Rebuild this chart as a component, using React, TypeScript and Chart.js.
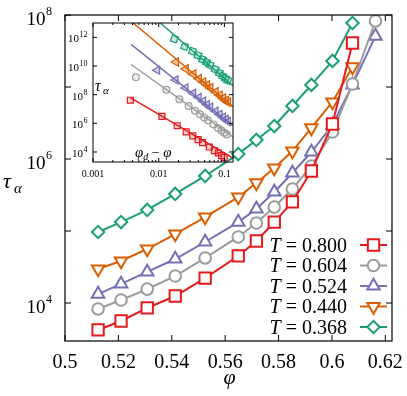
import React, { useEffect, useRef } from 'react';
import { Chart, registerables } from 'chart.js';

Chart.register(...registerables);

// ---------- main plot data ----------
const PHI = [0.5124, 0.521, 0.5308, 0.5413, 0.5525, 0.5649, 0.5717, 0.5784, 0.5852, 0.5923, 0.6002, 0.6077, 0.6163];
const TEMPS = ['0.800', '0.604', '0.524', '0.440', '0.368'];
const TAU_T0800 = [4220, 5620, 8530, 12500, 22200, 45000, 72600, 133000, 253000, 681000, 3060000, 40800000];
const TAU_T0604 = [8260, 11000, 15600, 23700, 42200, 82600, 129000, 215000, 383000, 800000, 2370000, 11000000, 82600000];
const TAU_T0524 = [13300, 18400, 27000, 40800, 70300, 133000, 202000, 348000, 640000, 1250000, 2960000, 10700000, 51000000];
const TAU_T0440 = [29600, 38300, 56200, 90800, 156000, 296000, 465000, 750000, 1290000, 2700000, 6190000, 19000000];
const TAU_T0368 = [96800, 133000, 196000, 327000, 581000, 1170000, 1840000, 2870000, 5450000, 10700000, 23000000, 77400000];

const X_TICKS = [0.5, 0.52, 0.54, 0.56, 0.58, 0.6, 0.62];
const X_TICK_LABELS = ['0.5', '0.52', '0.54', '0.56', '0.58', '0.6', '0.62'];
const Y_TICK_EXP = [4, 5, 6, 7, 8];
const Y_LABEL_EXP = [4, 6, 8];

// ---------- inset data (tau vs phi_d - phi) ----------
const INSET_DPHI_T0800 = [0.0037, 0.0112, 0.0191, 0.0262, 0.033, 0.0397, 0.0465, 0.0589, 0.0701, 0.0806, 0.0904, 0.099];
const INSET_TAU_T0800 = [40800000, 3060000, 681000, 253000, 133000, 72600, 45000, 22200, 12500, 8530, 5620, 4220];
const INSET_DPHI_T0604 = [0.0045, 0.0131, 0.0206, 0.0285, 0.0356, 0.0424, 0.0491, 0.0559, 0.0683, 0.0795, 0.09, 0.0998, 0.1084];
const INSET_TAU_T0604 = [1.65e9, 2.2e8, 4.73e7, 1.6e7, 7.64e6, 4.3e6, 2.58e6, 1.65e6, 8.41e5, 4.73e5, 3.12e5, 2.2e5, 1.65e5];
const INSET_DPHI_T0524 = [0.0095, 0.0181, 0.0256, 0.0335, 0.0406, 0.0474, 0.0541, 0.0609, 0.0733, 0.0845, 0.095, 0.1048, 0.1134];
const INSET_TAU_T0524 = [5.1e9, 1.07e9, 2.97e8, 1.25e8, 6.4e7, 3.48e7, 2.02e7, 1.33e7, 7.03e6, 4.08e6, 2.7e6, 1.84e6, 1.33e6];
const INSET_DPHI_T0440 = [0.0183, 0.0258, 0.0337, 0.0408, 0.0476, 0.0543, 0.0611, 0.0735, 0.0847, 0.0952, 0.105, 0.1136];
const INSET_TAU_T0440 = [1.9e10, 6.19e9, 2.7e9, 1.29e9, 7.5e8, 4.65e8, 2.97e8, 1.56e8, 9.08e7, 5.62e7, 3.83e7, 2.97e7];
const INSET_DPHI_T0368 = [0.0173, 0.0248, 0.0327, 0.0398, 0.0466, 0.0533, 0.0601, 0.0725, 0.0837, 0.0942, 0.104, 0.1126];
const INSET_TAU_T0368 = [7.74e11, 2.3e11, 1.07e11, 5.45e10, 2.87e10, 1.84e10, 1.17e10, 5.81e9, 3.27e9, 1.96e9, 1.33e9, 9.68e8];

// power-law fit lines: [start, end]
const FIT_DPHI = [[0.0037, 0.135], [0.0038, 0.135], [0.0038, 0.135], [0.00408, 0.135], [0.01055, 0.135]];
const FIT_TAU = [[6.2e7, 3800], [1.27e10, 1.12e5], [3.24e11, 6.6e5], [1e13, 1.45e7], [1e13, 4.27e8]];

const INSET_X_TICKS = [0.001, 0.01, 0.1];
const INSET_X_LABELS = ['0.001', '0.01', '0.1'];
const INSET_Y_EXP = [4, 6, 8, 10, 12];

// ---------- styles ----------
const COLORS = ['#e41a1c', '#9b9b9b', '#7570b3', '#d95f02', '#1b9e77'];
const FILLS = ['rgba(228,26,28,0.2)', 'rgba(155,155,155,0.15)', 'rgba(117,112,179,0.35)', 'rgba(217,95,2,0.35)', 'rgba(27,158,119,0.25)'];
const STYLES = ['rect', 'circle', 'triangle', 'triangle', 'rectRot'];
const ROTS = [0, 0, 0, 180, 0];
const MAIN_R = [8, 5.8, 7.2, 7.2, 6.2];
const INSET_STYLES = ['rect', 'circle', 'triangle', 'triangle', 'rect'];
const INSET_ROTS = [0, 0, 150, 270, 20];
const INSET_R = [4.2, 3.4, 4.8, 5, 4.4];
const SERIF = '"Liberation Serif", "DejaVu Serif", serif';

const MAIN_TAU = [TAU_T0800, TAU_T0604, TAU_T0524, TAU_T0440, TAU_T0368];
const INSET_DPHI = [INSET_DPHI_T0800, INSET_DPHI_T0604, INSET_DPHI_T0524, INSET_DPHI_T0440, INSET_DPHI_T0368];
const INSET_TAU = [INSET_TAU_T0800, INSET_TAU_T0604, INSET_TAU_T0524, INSET_TAU_T0440, INSET_TAU_T0368];

function drawMarker(ctx: CanvasRenderingContext2D, style: string, x: number, y: number, r: number, rot: number) {
  ctx.beginPath();
  if (style === 'rect') {
    const s = r * Math.SQRT1_2;
    ctx.rect(x - s, y - s, 2 * s, 2 * s);
  } else if (style === 'circle') {
    ctx.arc(x, y, r, 0, Math.PI * 2);
  } else if (style === 'triangle') {
    let a = (rot * Math.PI) / 180;
    for (let k = 0; k < 3; k++) {
      const px = x + Math.sin(a) * r, py = y - Math.cos(a) * r;
      if (k === 0) ctx.moveTo(px, py); else ctx.lineTo(px, py);
      a += (2 * Math.PI) / 3;
    }
  } else {
    ctx.moveTo(x - r, y); ctx.lineTo(x, y - r); ctx.lineTo(x + r, y); ctx.lineTo(x, y + r);
  }
  ctx.closePath();
  ctx.fill();
  ctx.stroke();
}

function drawPow(ctx: CanvasRenderingContext2D, exp: number, right: number, ty: number, bs: number, es: number, bOff: number, eOff: number) {
  ctx.textAlign = 'right';
  ctx.textBaseline = 'alphabetic';
  ctx.font = `${es}px ${SERIF}`;
  const es_ = String(exp);
  const ew = ctx.measureText(es_).width;
  ctx.fillText(es_, right, ty + eOff);
  ctx.font = `${bs}px ${SERIF}`;
  ctx.fillText('10', right - ew - 0.5, ty + bOff);
}

const mainDecor = {
  id: 'mainDecor',
  afterDraw(chart: any) {
    const { ctx, chartArea: a, scales } = chart;
    const xs = scales.x, ys = scales.y;
    ctx.save();
    ctx.strokeStyle = '#000';
    ctx.lineWidth = 1.2;
    ctx.strokeRect(a.left, a.top, a.right - a.left, a.bottom - a.top);
    ctx.beginPath();
    X_TICKS.forEach((v) => {
      const px = xs.getPixelForValue(v);
      ctx.moveTo(px, a.bottom); ctx.lineTo(px, a.bottom - 6);
      ctx.moveTo(px, a.top); ctx.lineTo(px, a.top + 6);
    });
    Y_TICK_EXP.forEach((e) => {
      const py = ys.getPixelForValue(Math.pow(10, e));
      ctx.moveTo(a.left, py); ctx.lineTo(a.left + 6, py);
      ctx.moveTo(a.right, py); ctx.lineTo(a.right - 6, py);
    });
    ctx.lineWidth = 1;
    ctx.stroke();

    ctx.fillStyle = '#000';
    ctx.font = `20px ${SERIF}`;
    ctx.textAlign = 'center';
    ctx.textBaseline = 'alphabetic';
    X_TICKS.forEach((v, i) => ctx.fillText(X_TICK_LABELS[i], xs.getPixelForValue(v), a.bottom + 27));
    Y_LABEL_EXP.forEach((e) => drawPow(ctx, e, a.left - 13, ys.getPixelForValue(Math.pow(10, e)), 19, 12, 10, 0));

    // axis titles
    ctx.textAlign = 'left';
    ctx.font = `italic 22px ${SERIF}`;
    ctx.fillText('τ', 3, 188);
    ctx.font = `italic 15px ${SERIF}`;
    ctx.fillText('α', 14, 193);
    ctx.textAlign = 'center';
    ctx.font = `italic 22px ${SERIF}`;
    ctx.fillText('φ', (a.left + a.right) / 2 + 1, a.bottom + 43);

    // legend
    const textRight = a.right - 45;
    TEMPS.forEach((t, i) => {
      const cy = a.bottom - 96 + i * 20.5;
      ctx.textAlign = 'right';
      ctx.font = `20px ${SERIF}`;
      const rest = ' = ' + t;
      const w = ctx.measureText(rest).width;
      ctx.fillStyle = '#000';
      ctx.fillText(rest, textRight, cy + 6.5);
      ctx.font = `italic 20px ${SERIF}`;
      ctx.fillText('T', textRight - w, cy + 6.5);
      ctx.strokeStyle = COLORS[i];
      ctx.lineWidth = 2;
      ctx.beginPath();
      ctx.moveTo(a.right - 32, cy); ctx.lineTo(a.right - 5, cy);
      ctx.stroke();
      ctx.fillStyle = '#fff';
      drawMarker(ctx, STYLES[i], a.right - 18.5, cy, MAIN_R[i], ROTS[i]);
    });
    ctx.restore();
  },
};

const insetDecor = {
  id: 'insetDecor',
  afterDraw(chart: any) {
    const { ctx, chartArea: a, scales } = chart;
    const xs = scales.x, ys = scales.y;
    ctx.save();
    ctx.strokeStyle = '#000';
    ctx.lineWidth = 1;
    ctx.strokeRect(a.left, a.top, a.right - a.left, a.bottom - a.top);
    ctx.beginPath();
    for (let d = -3; d <= -1; d++) {
      for (let m = 1; m <= 9; m++) {
        const v = m * Math.pow(10, d);
        if (v > xs.max) break;
        const len = m === 1 ? 4 : 2;
        const px = xs.getPixelForValue(v);
        ctx.moveTo(px, a.bottom); ctx.lineTo(px, a.bottom - len);
        ctx.moveTo(px, a.top); ctx.lineTo(px, a.top + len);
      }
    }
    INSET_Y_EXP.forEach((e) => {
      const py = ys.getPixelForValue(Math.pow(10, e));
      ctx.moveTo(a.left, py); ctx.lineTo(a.left + 4, py);
      ctx.moveTo(a.right, py); ctx.lineTo(a.right - 4, py);
    });
    ctx.stroke();

    ctx.fillStyle = '#000';
    ctx.font = `10px ${SERIF}`;
    ctx.textAlign = 'center';
    ctx.textBaseline = 'alphabetic';
    INSET_X_TICKS.forEach((v, i) => ctx.fillText(INSET_X_LABELS[i], xs.getPixelForValue(v), a.bottom + 15));
    INSET_Y_EXP.forEach((e) => drawPow(ctx, e, a.left - 5.5, ys.getPixelForValue(Math.pow(10, e)), 11, 8, 5, 0));

    ctx.textAlign = 'left';
    ctx.font = `italic 16px ${SERIF}`;
    ctx.fillText('τ', a.left + 2, 91);
    ctx.font = `italic 11px ${SERIF}`;
    ctx.fillText('α', a.left + 10, 94);

    let x = a.left + 42;
    const by = a.bottom - 5;
    ctx.font = `italic 15px ${SERIF}`;
    ctx.fillText('φ', x, by); x += ctx.measureText('φ').width;
    ctx.font = `italic 10px ${SERIF}`;
    ctx.fillText('d', x, by + 3); x += ctx.measureText('d').width;
    ctx.font = `14px ${SERIF}`;
    ctx.fillText(' − ', x, by); x += ctx.measureText(' − ').width;
    ctx.font = `italic 15px ${SERIF}`;
    ctx.fillText('φ', x, by);
    ctx.restore();
  },
};

export default function App() {
  const mainRef = useRef<HTMLCanvasElement>(null);
  const insetRef = useRef<HTMLCanvasElement>(null);

  useEffect(() => {
    const mainDatasets = MAIN_TAU.map((tau, i) => ({
      label: 'T = ' + TEMPS[i],
      data: tau.map((y, j) => ({ x: PHI[j], y })),
      showLine: true,
      borderColor: COLORS[i],
      backgroundColor: '#fff',
      borderWidth: 2,
      pointStyle: STYLES[i],
      pointRotation: ROTS[i],
      pointRadius: MAIN_R[i],
      pointBorderWidth: 2,
      pointBackgroundColor: '#fff',
      pointBorderColor: COLORS[i],
    }));

    const main = new Chart(mainRef.current!, {
      type: 'scatter',
      data: { datasets: mainDatasets as any },
      options: {
        animation: false,
        responsive: false,
        devicePixelRatio: 1,
        layout: { padding: { left: 65, top: 15, right: 15, bottom: 55 } },
        plugins: { legend: { display: false }, tooltip: { enabled: false } },
        scales: {
          x: { type: 'linear', min: 0.5, max: 0.6225, display: false },
          y: { type: 'logarithmic', min: 2965, max: 1e8, display: false },
        },
      },
      plugins: [mainDecor],
    });

    const insetDatasets: any[] = [];
    INSET_DPHI.forEach((xsArr, i) => {
      insetDatasets.push({
        label: 'fit ' + TEMPS[i],
        data: FIT_DPHI[i].map((x, j) => ({ x, y: FIT_TAU[i][j] })),
        showLine: true,
        borderColor: COLORS[i],
        borderWidth: 1.5,
        pointRadius: 0,
      });
      insetDatasets.push({
        label: 'data ' + TEMPS[i],
        data: xsArr.map((x, j) => ({ x, y: INSET_TAU[i][j] })),
        showLine: false,
        pointStyle: INSET_STYLES[i],
        pointRotation: INSET_ROTS[i],
        pointRadius: INSET_R[i],
        pointBorderWidth: 1.2,
        pointBorderColor: COLORS[i],
        pointBackgroundColor: FILLS[i],
        borderColor: COLORS[i],
      });
    });

    const inset = new Chart(insetRef.current!, {
      type: 'scatter',
      data: { datasets: insetDatasets },
      options: {
        animation: false,
        responsive: false,
        devicePixelRatio: 1,
        layout: { padding: { left: 93, top: 23, right: 174, bottom: 38 } },
        plugins: { legend: { display: false }, tooltip: { enabled: false } },
        scales: {
          x: { type: 'logarithmic', min: 0.001, max: 0.135, display: false },
          y: { type: 'logarithmic', min: 2000, max: 1e13, display: false },
        },
      },
      plugins: [insetDecor],
    });

    return () => {
      main.destroy();
      inset.destroy();
    };
  }, []);

  return (
    <div style={{ position: 'fixed', left: 0, top: 0, width: 407, height: 396, background: '#fff' }}>
      <canvas ref={mainRef} width={407} height={396} style={{ position: 'absolute', left: 0, top: 0 }} />
      <canvas ref={insetRef} width={407} height={200} style={{ position: 'absolute', left: 0, top: 0 }} />
    </div>
  );
}
